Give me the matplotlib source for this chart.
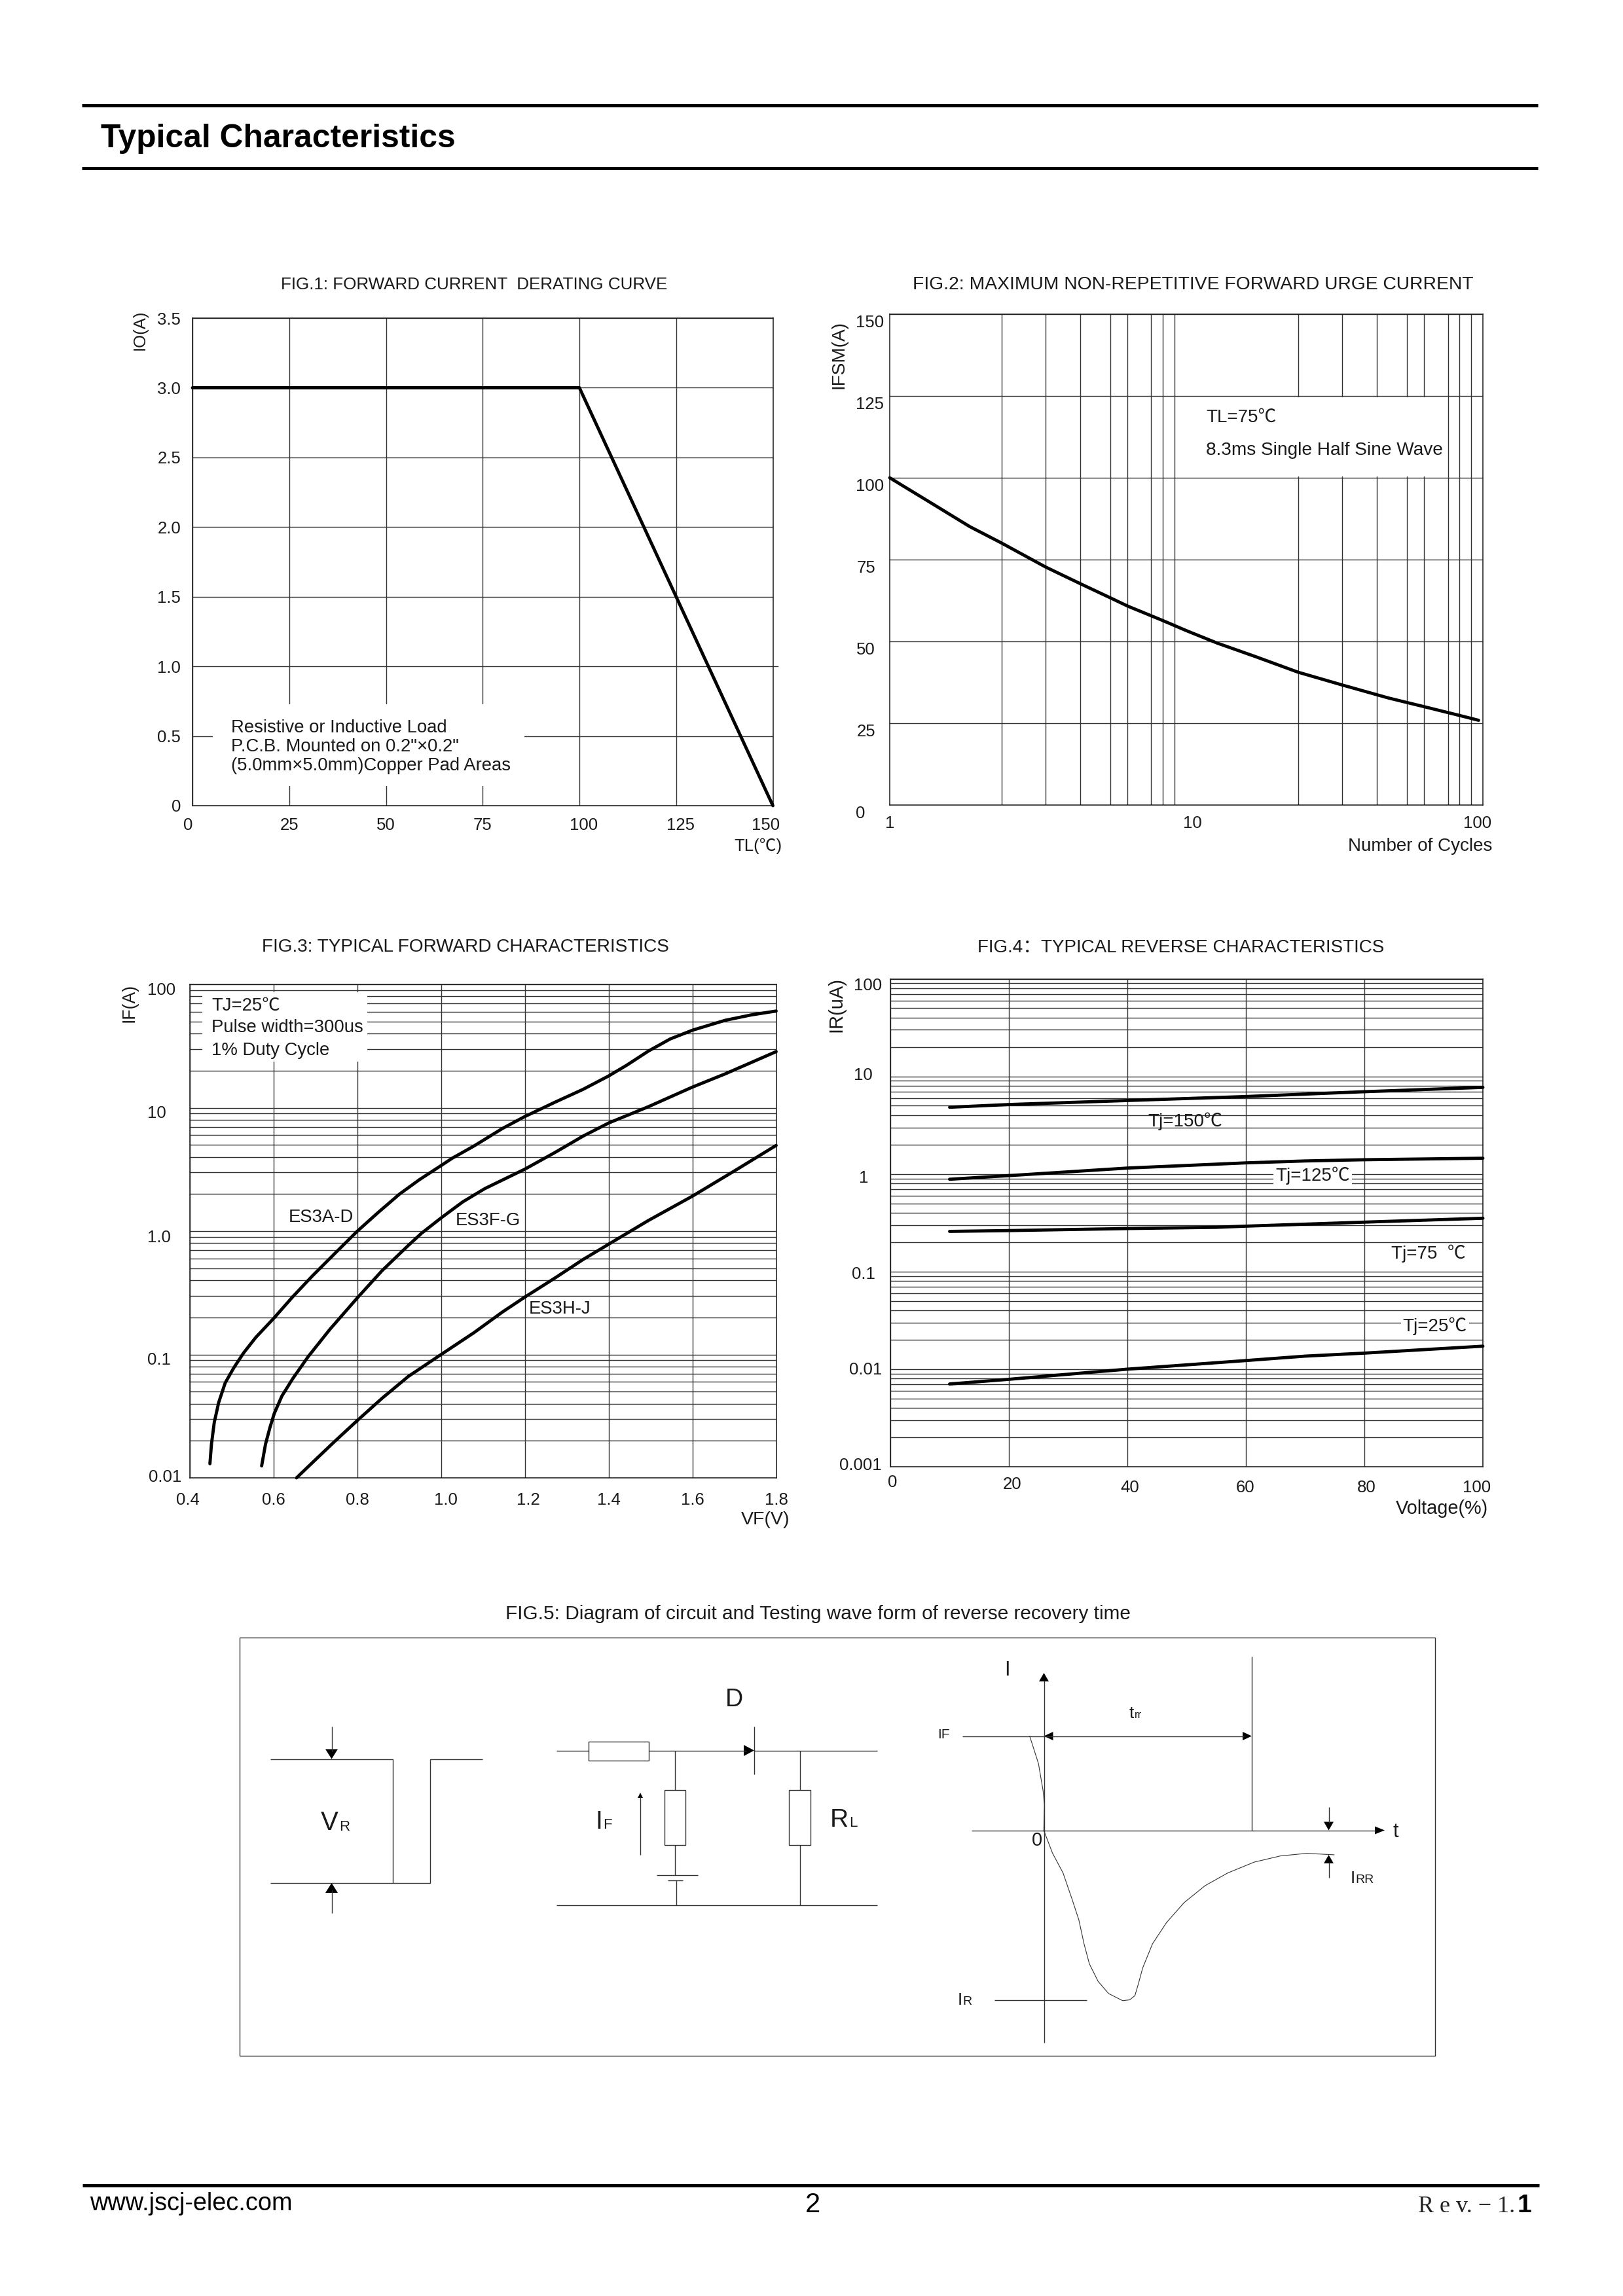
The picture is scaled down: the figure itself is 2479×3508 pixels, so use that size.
#!/usr/bin/env python3
import matplotlib
matplotlib.use('Agg')
import matplotlib.pyplot as plt
from matplotlib.patches import Rectangle
from matplotlib.ticker import LogLocator, NullFormatter
from matplotlib.transforms import Affine2D

plt.rcParams['font.family'] = ['Liberation Sans', 'Noto Sans CJK SC']

W, H = 2479, 3508
INK = '#1a1a1a'
GRID = '#333333'

# fig 1
tl = [0, 100, 150]
io = [3.0, 3.0, 0]

# fig 2
cycles = [1, 1.345, 1.86, 2.39, 3.36, 4.40, 5.55, 6.34, 8.32, 10, 12.7, 17.3, 23.8, 33.5, 48.1, 63.4, 83.2, 96.7]
ifsm = [99.9, 92.8, 85, 79.9, 72.6, 67.5, 63.2, 60.7, 56.3, 53.2, 49.4, 45.1, 40.5, 36.6, 32.6, 29.95, 27.3, 25.8]
cycle_grid = [2.39, 3.36, 4.40, 5.55, 6.34, 7.59, 8.32, 9.12, 10, 23.8, 33.5, 44, 55.5, 63.4, 76.2, 83.2, 91.2]

# fig 3
vf_a = [.4479, .4516, .4583, .4688, .4844, .5052, .5286, .5573, .6, .6458, .6927, .7448, .8, .849, .901, .948, 1.0, 1.0266, 1.0786, 1.1464, 1.2, 1.2714, 1.339, 1.4, 1.443, 1.495, 1.547, 1.6, 1.678, 1.74, 1.8]
if_a = [.01303, .0188, .0282, .0408, .0589, .0783, .1033, .1374, .196, .294, .434, .652, 1.0, 1.41, 2.0, 2.61, 3.4, 3.9, 4.9, 6.79, 8.49, 11.07, 14.1, 18.1, 22.1, 28.8, 36.1, 42.5, 51.1, 56.5, 60.8]
vf_f = [.5714, .5807, .5911, .6016, .6198, .6458, .6823, .7344, .8, .8594, .9219, .9531, 1, 1.0521, 1.1042, 1.2, 1.2714, 1.339, 1.4, 1.495, 1.6, 1.678, 1.8]
if_f = [.0125, .0188, .0255, .0333, .0461, .0638, .0959, .16, .288, .48, .767, .96, 1.28, 1.73, 2.21, 3.18, 4.33, 5.89, 7.52, 10.2, 14.7, 18.8, 28.5]
vf_h = [.6547, .6927, .7448, .8, .8594, .9219, 1, 1.0781, 1.1464, 1.2, 1.2714, 1.339, 1.4, 1.495, 1.6, 1.704, 1.8]
if_h = [.01, .0133, .0196, .0292, .0443, .0665, .1, .15, .221, .292, .416, .589, .783, 1.22, 1.92, 3.13, 4.95]

# fig 4
v_150 = [10, 20, 40, 60, 80, 100]
ir_150 = [4.83, 5.15, 5.66, 6.22, 6.97, 7.72]
v_125 = [10, 20, 40, 60, 70, 80, 100]
ir_125 = [.883, .962, 1.15, 1.30, 1.36, 1.40, 1.45]
v_75 = [10, 20, 40, 55, 60, 80, 100]
ir_75 = [.258, .263, .276, .284, .292, .321, .352]
v_25 = [10, 20, 40, 60, 70, 80, 100]
ir_25 = [.00705, .00787, .01, .01225, .0136, .0146, .0172]

# fig 5 recovery waveform, page pixels
wave_x = [1572.8, 1586.2, 1593.2, 1595.3, 1594.3, 1607.6, 1623.7, 1637.1, 1647.8, 1655.8, 1663.9, 1677.3, 1693.3, 1714.8, 1725.5, 1733.5, 1738.9, 1745.3, 1760.3, 1781.7, 1808.5, 1840.6, 1875.4, 1915.6, 1955.8, 1996, 2037.7]
wave_y = [2652.6, 2694.7, 2735.9, 2757.5, 2796.6, 2831.3, 2861.6, 2900.6, 2933.2, 2970, 3000.4, 3027.3, 3045.9, 3056.8, 3055.5, 3049, 3030.7, 3006.9, 2970, 2937.5, 2907.1, 2881.1, 2861.6, 2845.1, 2835.6, 2831.7, 2833.9]

fig = plt.figure(figsize=(W / 100, H / 100), dpi=100)


def make_axes(left, top, right, bottom):
    ax = fig.add_axes([left / W, 1 - bottom / H, (right - left) / W, (bottom - top) / H])
    ax.set_axisbelow(True)
    for s in ax.spines.values():
        s.set_linewidth(1.1)
        s.set_color(INK)
    ax.minorticks_off()
    return ax


def shift_labels(labels, offsets):
    # offsets in pixels, y up
    for lab, (dx, dy) in zip(labels, offsets):
        lab.set_transform(lab.get_transform() + Affine2D().translate(dx, dy))


def set_ticks(ax, xt, xl, xoff, xpad, yt, yl, yoff, ypad):
    ax.set_xticks(xt, xl)
    ax.set_yticks(yt, yl)
    ax.tick_params(axis='x', which='major', length=0, pad=xpad * 0.72, labelsize=18.5, colors=INK)
    ax.tick_params(axis='y', which='major', length=0, pad=ypad * 0.72, labelsize=18.5, colors=INK)
    ax.tick_params(which='minor', length=0)
    shift_labels(ax.get_xticklabels(), xoff)
    shift_labels(ax.get_yticklabels(), yoff)


def mask(ax, x0, x1, y0, y1):
    ax.add_patch(Rectangle((x0, y0), x1 - x0, y1 - y0, fc='white', ec='none', zorder=1.5))


def curve(ax, xs, ys):
    ax.plot(xs, ys, color='black', lw=3.5, clip_on=False, solid_capstyle='round', zorder=3)


# ---- fig 1
ax1 = make_axes(294, 486, 1180.5, 1231)
ax1.set_xlim(0, 150)
ax1.set_ylim(0, 3.5)
set_ticks(ax1, [0, 25, 50, 75, 100, 125, 150], ['0', '25', '50', '75', '100', '125', '150'],
          [(-7, 0), (0, 0), (0, 0), (0, 0), (7, 0), (7, 0), (-11, 0)], 18,
          [0, .5, 1, 1.5, 2, 2.5, 3, 3.5], ['0', '0.5', '1.0', '1.5', '2.0', '2.5', '3.0', '3.5'],
          [(0, 0)] * 8, 18)
ax1.grid(True, color=GRID, lw=1.0)
mask(ax1, 5.2, 85.8, 0.14, 0.73)
curve(ax1, tl, io)
ax1.plot([150, 151.2], [1, 1], color=GRID, lw=1.0, clip_on=False)
ax1.text(9.9, 0.425, 'Resistive or Inductive Load\nP.C.B. Mounted on 0.2"×0.2"\n(5.0mm×5.0mm)Copper Pad Areas',
         fontsize=19.8, color=INK, va='center', linespacing=1.15, zorder=4)

# ---- fig 2
ax2 = make_axes(1359, 479.5, 2265, 1229.5)
ax2.set_xscale('log')
ax2.set_xlim(1, 100)
ax2.set_ylim(0, 150)
set_ticks(ax2, [1, 10, 100], ['1', '10', '100'], [(0, 0), (9, 0), (-8, 0)], 16,
          [0, 25, 50, 75, 100, 125, 150], ['0', '25', '50', '75', '100', '125', '150'],
          [(-29, -11), (-13, -11), (-13, -11), (-13, -11), (0, -11), (0, -11), (0, -11)], 9)
ax2.set_xticks(cycle_grid, minor=True)
ax2.xaxis.set_minor_formatter(NullFormatter())
ax2.tick_params(which='minor', length=0)
ax2.grid(True, which='major', axis='y', color=GRID, lw=1.0)
ax2.grid(True, which='minor', axis='x', color=GRID, lw=1.0)
mask(ax2, 10.15, 75, 100.4, 124.6)
curve(ax2, cycles, ifsm)
ax2.text(11.66, 118.3, 'TL=75℃', fontsize=20, color=INK, va='center', zorder=4)
ax2.text(11.66, 108.4, '8.3ms Single Half Sine Wave', fontsize=20.2, color=INK, va='center', zorder=4)

# ---- fig 3
ax3 = make_axes(290, 1504, 1185.5, 2258)
ax3.set_yscale('log')
ax3.set_xlim(0.4, 1.8)
ax3.set_ylim(0.01, 100)
set_ticks(ax3, [.4, .6, .8, 1.0, 1.2, 1.4, 1.6, 1.8], ['0.4', '0.6', '0.8', '1.0', '1.2', '1.4', '1.6', '1.8'],
          [(-3, 0), (0, 0), (0, 0), (7, 0), (5, 0), (0, 0), (0, 0), (0, 0)], 22,
          [.01, .1, 1, 10, 100], ['0.01', '0.1', '1.0', '10', '100'],
          [(0, 4), (-16, -6), (-16, -7), (-23, -6), (-9, -6)], 13)
ax3.yaxis.set_minor_locator(LogLocator(base=10, subs=range(2, 10), numticks=20))
ax3.yaxis.set_minor_formatter(NullFormatter())
ax3.tick_params(which='minor', length=0)
ax3.grid(True, which='major', color=GRID, lw=1.0)
ax3.grid(True, which='minor', axis='y', color=GRID, lw=1.0)
mask(ax3, .43, .824, 23.6, 86)
for xs, ys in [(vf_a, if_a), (vf_f, if_f), (vf_h, if_h)]:
    curve(ax3, xs, ys)
ax3.text(.4518, 67, 'TJ=25℃', fontsize=19.8, color=INK, va='center', zorder=4)
ax3.text(.4518, 44.5, 'Pulse width=300us', fontsize=19.8, color=INK, va='center', zorder=4)
ax3.text(.4518, 29, '1% Duty Cycle', fontsize=19.8, color=INK, va='center', zorder=4)
ax3.text(.636, 1.29, 'ES3A-D', fontsize=19.8, color=INK, va='center', zorder=4)
ax3.text(1.035, 1.22, 'ES3F-G', fontsize=19.8, color=INK, va='center', zorder=4)
ax3.text(1.209, .233, 'ES3H-J', fontsize=19.8, color=INK, va='center', zorder=4)

# ---- fig 4
ax4 = make_axes(1360, 1495.5, 2265, 2241)
ax4.set_yscale('log')
ax4.set_xlim(0, 100)
ax4.set_ylim(0.001, 100)
set_ticks(ax4, [0, 20, 40, 60, 80, 100], ['0', '20', '40', '60', '80', '100'],
          [(3, 0), (5, -3), (4, -8), (-1, -8), (3, -8), (-9, -8)], 12,
          [.001, .01, .1, 1, 10, 100], ['0.001', '0.01', '0.1', '1', '10', '100'],
          [(0, 4), (0, 1), (-10, -2), (-21, -4), (-14, 4), (0, -8)], 13)
ax4.yaxis.set_minor_locator(LogLocator(base=10, subs=range(2, 10), numticks=20))
ax4.yaxis.set_minor_formatter(NullFormatter())
ax4.tick_params(which='minor', length=0)
ax4.grid(True, which='major', color=GRID, lw=1.0)
ax4.grid(True, which='minor', axis='y', color=GRID, lw=1.0)
for xs, ys in [(v_150, ir_150), (v_125, ir_125), (v_75, ir_75), (v_25, ir_25)]:
    curve(ax4, xs, ys)
box = dict(fc='white', ec='none', pad=2)
ax4.text(43.5, 3.45, 'Tj=150℃', fontsize=20, color=INK, va='center', zorder=4)
ax4.text(65, .96, 'Tj=125℃', fontsize=20, color=INK, va='center', bbox=box, zorder=4)
ax4.text(84.5, .153, 'Tj=75  ℃', fontsize=20, color=INK, va='center', zorder=4)
ax4.text(86.5, .0275, 'Tj=25℃', fontsize=20, color=INK, va='center', bbox=box, zorder=4)

# ---- everything placed on the page itself
pg = fig.add_axes([0, 0, 1, 1], zorder=10)
pg.set_xlim(0, W)
pg.set_ylim(H, 0)
pg.axis('off')
pg.patch.set_alpha(0)


def line(xs, ys, lw=1.0, color=GRID):
    pg.plot(xs, ys, color=color, lw=lw, solid_capstyle='butt', solid_joinstyle='miter')


def head(tx, ty, dx, dy, length, width):
    # solid arrow head, tip at tx,ty pointing along dx,dy
    bx, by = tx - dx * length, ty - dy * length
    px, py = -dy * width / 2, dx * width / 2
    pg.fill([tx, bx + px, bx - px], [ty, by + py, by - py], color='black', lw=0)


def txt(x, y, s, size=20, ha='left', va='baseline', **kw):
    pg.text(x, y, s, fontsize=size, ha=ha, va=va, color=kw.pop('color', INK), **kw)


def rect(x0, y0, x1, y1):
    pg.add_patch(Rectangle((x0, y0), x1 - x0, y1 - y0, fc='none', ec=GRID, lw=1.0))


# header and footer
line([125, 2349], [161, 161], lw=3.6, color='black')
line([125, 2349], [257, 257], lw=3.6, color='black')
line([126, 2351], [3339, 3339], lw=3.6, color='black')
txt(154, 225, 'Typical Characteristics', size=35.8, weight='bold', color='black')
txt(137, 3377, 'www.jscj-elec.com', size=27.3, color='black')
txt(1241, 3380, '2', size=30, ha='center', color='black')
txt(2166, 3380, 'R e v. − 1.', size=26, family='Liberation Serif', color='#222222')
txt(2339, 3380, '1', size=28, ha='right', weight='bold', color='black')

# figure titles
txt(724.5, 442, 'FIG.1: FORWARD CURRENT  DERATING CURVE', size=18.7, ha='center')
txt(1822, 442, 'FIG.2: MAXIMUM NON-REPETITIVE FORWARD URGE CURRENT', size=20.3, ha='center')
txt(710.5, 1454.5, 'FIG.3: TYPICAL FORWARD CHARACTERISTICS', size=20.2, ha='center')
txt(1804, 1454.5, 'FIG.4：TYPICAL REVERSE CHARACTERISTICS', size=20, ha='center')
txt(1249, 2474, 'FIG.5: Diagram of circuit and Testing wave form of reverse recovery time', size=21.4, ha='center')

# axis names
txt(213.5, 504, 'IO(A)', size=18.5, rotation=90, ha='center', va='center')
txt(1195, 1293, 'TL(℃)', size=18.5, ha='right', va='center')
txt(1281.5, 542, 'IFSM(A)', size=20.2, rotation=90, ha='center', va='center')
txt(2279.5, 1293, 'Number of Cycles', ha='right', va='center')
txt(197.5, 1532, 'IF(A)', size=19.2, rotation=90, ha='center', va='center')
txt(1206, 2322, 'VF(V)', size=20.5, ha='right', va='center')
txt(1277, 1535, 'IR(uA)', size=21, rotation=90, ha='center', va='center')
txt(2273, 2305, 'Voltage(%)', size=20.8, ha='right', va='center')

# fig 5 frame
rect(365.5, 2501.5, 2191.5, 3140.5)

# pulse on the left
line([413, 600, 600], [2687.5, 2687.5, 2877])
line([413, 656.5, 656.5, 737], [2877, 2877, 2687.5, 2687.5])
line([506.5, 506.5], [2638, 2676])
line([506.5, 506.5], [2888, 2922.5])
head(506.5, 2687.5, 0, 1, 15, 19)
head(506.5, 2877, 0, -1, 15, 19)
txt(490, 2795.5, 'V', size=29)
txt(518, 2797, 'R', size=16)

# test circuit
line([850, 898.5], [2674.5, 2674.5])
rect(898.5, 2660.5, 990.5, 2689.5)
line([990.5, 1140], [2674.5, 2674.5])
head(1152, 2674.5, 1, 0, 16, 17)
line([1152, 1152], [2638, 2711])
line([1152, 1340], [2674.5, 2674.5])
line([1031, 1031], [2674.5, 2734.5])
rect(1015, 2734.5, 1046.5, 2819)
line([1031, 1031], [2819, 2864.5])
line([1003, 1066], [2864.5, 2864.5])
line([1020, 1043], [2872.5, 2872.5])
line([1032.5, 1032.5], [2872.5, 2910.5])
line([850, 1340], [2910.5, 2910.5])
line([1221.5, 1221.5], [2674.5, 2734.5])
rect(1205, 2734.5, 1237.5, 2819)
line([1221.5, 1221.5], [2819, 2910.5])
line([978, 978], [2833.5, 2745])
head(978, 2739, 0, -1, 8, 8)
txt(1121, 2607, 'D', size=27, ha='center')
txt(909, 2794.5, 'I', size=28)
txt(921, 2794.5, 'F', size=16)
txt(1268, 2791, 'R', size=28)
txt(1297, 2791, 'L', size=16)

# reverse recovery wave
line([1594.5, 1594.5], [3121, 2568])
head(1594.5, 2556, 0, -1, 13, 15)
line([1483.5, 2102], [2796.5, 2796.5])
head(2115, 2796.5, 1, 0, 15, 12)
line([1470, 1900], [2652.5, 2652.5])
head(1594.5, 2652.5, -1, 0, 14, 13)
head(1912, 2652.5, 1, 0, 14, 13)
line([1912, 1912], [2531, 2796.5])
pg.plot(wave_x, wave_y, color=GRID, lw=0.8)
line([1518.5, 1660], [3056, 3056])
line([2029.5, 2029.5], [2761, 2785])
head(2029.5, 2796.5, 0, 1, 13, 15)
line([2029.5, 2029.5], [2846, 2869])
head(2029.5, 2834, 0, -1, 13, 15)
txt(1534, 2560, 'I', size=22)
txt(1432.5, 2655.5, 'IF', size=15)
txt(1724.5, 2625, 't', size=19)
txt(1732.5, 2625, 'rr', size=12)
txt(2128, 2807, 't', size=22)
txt(1575.5, 2820, '0', size=21)
txt(2063, 2877, 'I', size=19)
txt(2070, 2877, 'RR', size=14)
txt(1463, 3063, 'I', size=19)
txt(1470, 3063, 'R', size=14)

fig.savefig('out.png', dpi=100)
